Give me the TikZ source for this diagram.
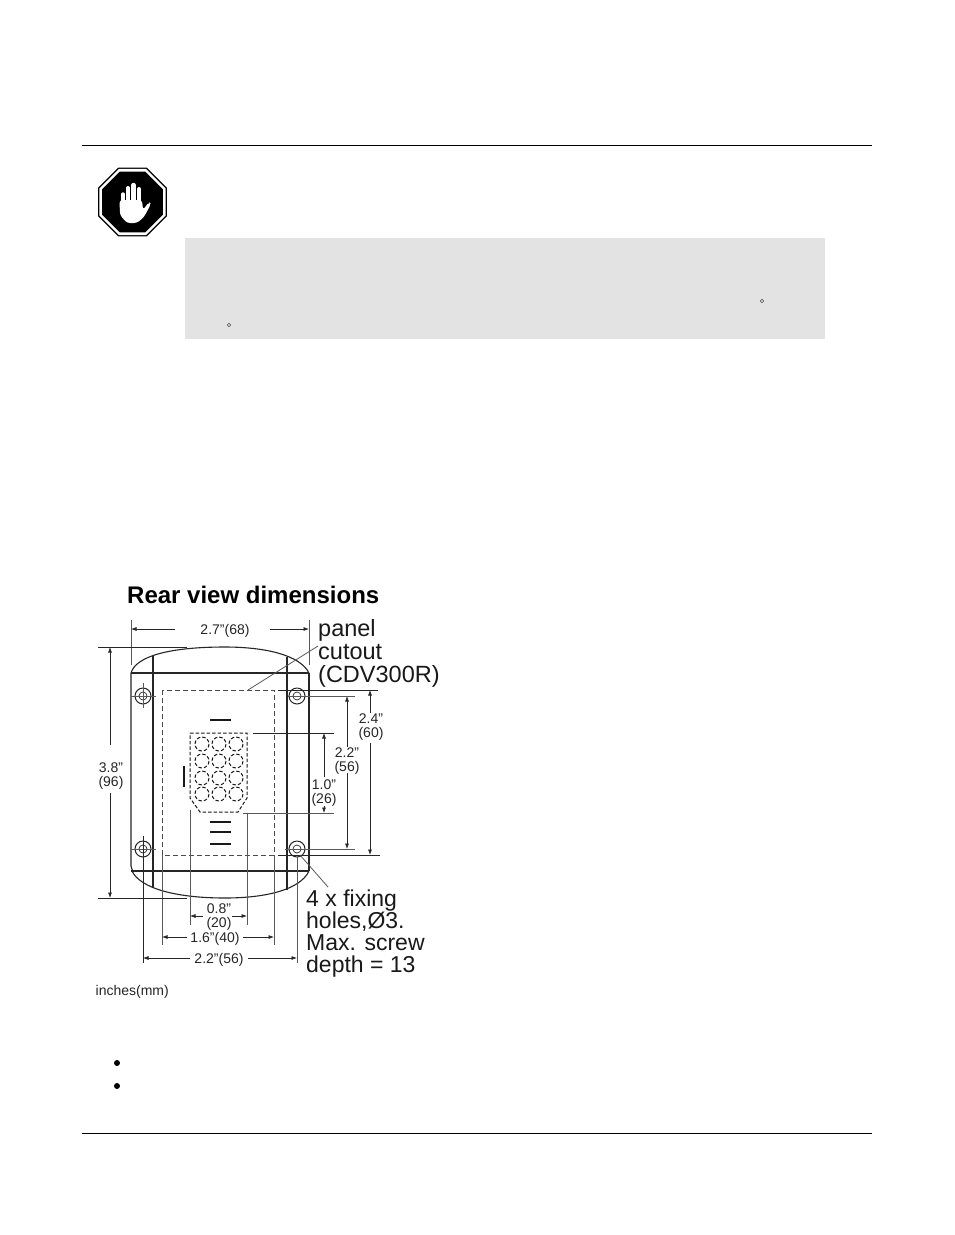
\documentclass[tikz,border=0pt]{standalone}
\usepackage{fontspec}
\setmainfont{Liberation Sans}
\usepackage{tikz}
\usetikzlibrary{
        arrows.meta,
        shapes.geometric
    }

\begin{document}
\begin{tikzpicture}
[x=1pt, y=-1pt,
rule/.style={line width=1pt, black},
outline/.style={line width=1.1pt, black!85},
extline/.style={line width=.8pt, black!65},
refline/.style={line width=1pt, black!85},
cutout/.style={line width=.9pt, black!70, dash pattern=on 5pt off 3pt},
keydash/.style={line width=1pt, black!90, dash pattern=on 3.5pt off 2pt},
bar/.style={line width=1.6pt, black!90},
arrow/.style={line width=.7pt, black!85, -{Latex[length=5.5pt,width=4pt]}},
arrows2/.style={line width=.7pt, black!85, {Latex[length=5.5pt,width=4pt]}-},
dimlabel/.style={inner sep=0pt, align=center, font=\fontsize{14}{13.5}\selectfont, black!85},
biglabel/.style={inner sep=0pt, align=left, anchor=north west, font=\fontsize{23}{22}\selectfont, black!90},
]

    \useasboundingbox (0,0) rectangle (954,1235);
    \fill[white] (0,0) rectangle (954,1235);

    \draw[rule] (82,145) -- (872,145);
    \draw[rule] (82,1133) -- (872,1133);
    \fill[black!11] (185,238) rectangle (825,339);
    \draw[black!70, line width=.6pt] (762,301) circle (1.8);
    \draw[black!70, line width=.6pt] (229,325) circle (1.8);
    \fill (117,1063) circle (3);
    \fill (117,1086) circle (3);

    \node (stopout) [regular polygon, regular polygon sides=8, minimum size=74.5pt, inner sep=0pt, fill=black] at (132.5,202) {};
    \node (stopring) [regular polygon, regular polygon sides=8, minimum size=71.5pt, inner sep=0pt, fill=white] at (132.5,202) {};
    \node (stopin) [regular polygon, regular polygon sides=8, minimum size=66pt, inner sep=0pt, fill=black] at (132.5,202) {};
    \draw[white, line width=3.4pt, line cap=round] (123,205) -- (123,194);
    \draw[white, line width=4pt, line cap=round] (128,205) -- (128,188);
    \draw[white, line width=4.4pt, line cap=round] (133.5,205) -- (133.5,185);
    \draw[white, line width=4pt, line cap=round] (139,205) -- (139,189);
    \fill[white, rounded corners=3pt] (119.5,200) -- (142,200) -- (143,210) -- (149,202) -- (151,204) -- (144,217) -- (137,223) -- (127,223) -- (120,215) -- cycle;

    \node (title) [inner sep=0pt, anchor=base west, font=\fontsize{24}{24}\selectfont\bfseries] at (127,603) {Rear view dimensions};
    \node (unitnote) [inner sep=0pt, anchor=base west, font=\fontsize{14}{14}\selectfont, black!85] at (95.5,995) {inches(mm)};

    \draw[outline, rounded corners=2pt] (131,673) -- (131,868) -- (133,871);
    \draw[outline] (309,673) -- (309,871);
    \draw[outline] (131,673) -- (309,673);
    \draw[outline] (131,871) -- (309,871);
    \draw[outline] (131,673) .. controls (136,656) and (170,647) .. (225,647) .. controls (265,647) and (300,655) .. (309,673);
    \draw[outline] (132,871) .. controls (140,888) and (175,898) .. (225,898) .. controls (265,898) and (300,890) .. (309,871);
    \draw[outline] (153,656) -- (153,888);
    \draw[outline] (287,657) -- (287,890);

    \draw[cutout] (162,690) rectangle (274,855);
    \draw[extline] (248,690) -- (318,646);

    \foreach \hx/\hy/\hname in {143/696/holetl, 297/696/holetr, 143/849/holebl, 297/849/holebr}{
        \node (\hname) [circle, draw=black!85, line width=1pt, minimum size=16pt, inner sep=0pt] at (\hx,\hy) {};
        \node (\hname in) [circle, draw=black!85, line width=.7pt, minimum size=8pt, inner sep=0pt] at (\hx,\hy) {};
    }
    \draw[extline] (131,696) -- (156,696);
    \draw[extline] (143,683) -- (143,708);
    \draw[extline] (131,849) -- (156,849);
    \draw[refline] (143,836) -- (143,963);
    \draw[extline] (297,857) -- (297,963);
    \draw[extline] (288,696) -- (355,696);
    \draw[refline] (278,690) -- (378,690);
    \draw[extline] (285,849) -- (355,849);
    \draw[refline] (278,855) -- (380,855);
    \draw[extline] (300,855) -- (328,887);

    \draw[keydash] (190,733) -- (247,733) -- (247,798) -- (238,812) -- (200,812) -- (190,798) -- cycle;
    \foreach \kx in {202,219,236}{
        \foreach \ky in {744,761,778,794}{
            \draw[keydash] (\kx,\ky) circle (7);
        }
    }
    \draw[bar] (210,720) -- (231,720);
    \draw[bar] (210,822) -- (231,822);
    \draw[bar] (210,832) -- (231,832);
    \draw[bar] (210,844) -- (231,844);
    \draw[bar] (184,766) -- (184,787);

    \draw[refline] (253,733) -- (334,733);
    \draw[extline] (243,813) -- (334,813);
    \draw[extline] (190,810) -- (190,925);
    \draw[extline] (247,813) -- (247,925);
    \draw[extline] (162,855) -- (162,945);
    \draw[extline] (274,855) -- (274,945);

    \draw[extline] (131,620) -- (131,665);
    \draw[extline] (309,620) -- (309,665);
    \draw[refline] (98,647) -- (187,647);
    \draw[refline] (98,898) -- (187,898);

    \node (w27) [dimlabel] at (225,631) {2.7”(68)};
    \draw[arrows2] (131,629) -- (175,629);
    \draw[arrow] (270,629) -- (309,629);

    \node (h38) [dimlabel] at (111,776) {3.8”\\(96)};
    \draw[arrows2] (110,647) -- (110,745);
    \draw[arrow] (110,793) -- (110,898);

    \node (h24) [dimlabel] at (371,727) {2.4”\\(60)};
    \draw[arrows2] (370,690) -- (370,713);
    \draw[arrow] (370,743) -- (370,855);

    \node (h22) [dimlabel] at (347,761) {2.2”\\(56)};
    \draw[arrows2] (347,696) -- (347,747);
    \draw[arrow] (347,773) -- (347,849);

    \node (h10) [dimlabel] at (324,793) {1.0”\\(26)};
    \draw[arrows2] (324,733) -- (324,777);
    \draw[arrow] (324,806) -- (324,813);

    \node (w08) [dimlabel] at (219,917) {0.8”\\(20)};
    \draw[arrows2] (190,916) -- (203,916);
    \draw[arrow] (232,916) -- (247,916);

    \node (w16) [dimlabel] at (215,939) {1.6”(40)};
    \draw[arrows2] (162,937) -- (187,937);
    \draw[arrow] (243,937) -- (274,937);

    \node (w22) [dimlabel] at (219,960) {2.2”(56)};
    \draw[arrows2] (143,958) -- (190,958);
    \draw[arrow] (248,958) -- (297,958);

    \node (panel) [biglabel, font=\fontsize{23.5}{23}\selectfont] at (318,619) {panel\\cutout\\(CDV300R)};
    \node (fixing) [biglabel] at (306,890) {4 x fixing\\holes,Ø3.\\Max. screw\\depth = 13};
\end{tikzpicture}
\end{document}
